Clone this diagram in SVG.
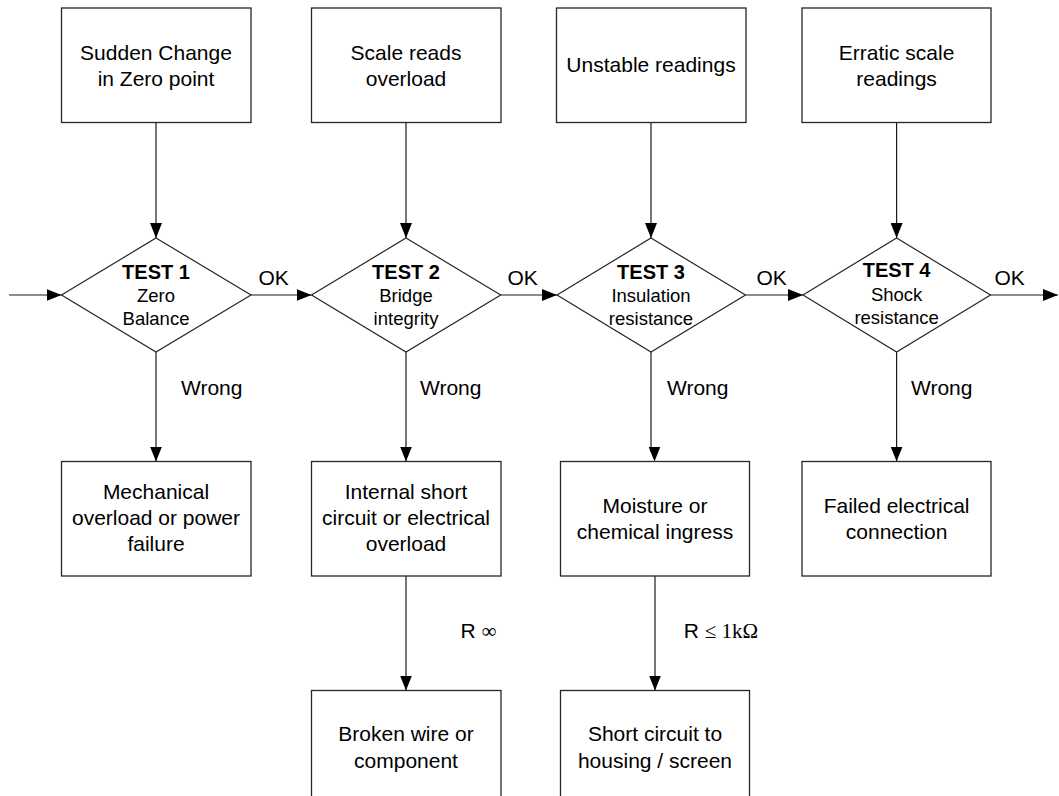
<svg xmlns="http://www.w3.org/2000/svg" width="1059" height="796" viewBox="0 0 1059 796">
<defs>
<style>
.box{fill:#fff;stroke:#262626;stroke-width:1.3}
.dia{fill:#fff;stroke:#262626;stroke-width:1.2}
.con{fill:none;stroke:#1a1a1a;stroke-width:1.2;marker-end:url(#arr)}
.line{fill:none;stroke:#1a1a1a;stroke-width:1.2}
.head{fill:none;stroke:none;marker-end:url(#arr)}
text{font-family:"Liberation Sans",Arial,sans-serif;font-size:21px;fill:#000}
.c{text-anchor:middle}
.t{font-weight:bold;font-size:20px}
.s{font-size:18.5px}
.serif{font-family:"Liberation Serif","Times New Roman",serif}
</style>
<marker id="arr" markerWidth="15" markerHeight="12" refX="15" refY="6" orient="auto" markerUnits="userSpaceOnUse">
<path d="M0,0 L15,6 L0,12 z" fill="#000"/>
</marker>
</defs>
<rect width="1059" height="796" fill="#fff"/>
<g id="connectors">
<line class="con" x1="156" y1="123" x2="156" y2="238"/>
<line class="con" x1="406" y1="123" x2="406" y2="238"/>
<line class="con" x1="651" y1="123" x2="651" y2="238"/>
<line class="con" x1="896.6" y1="123" x2="896.6" y2="238"/>
<line class="con" x1="9" y1="295" x2="61.5" y2="295"/>
<line class="con" x1="251" y1="295" x2="311.5" y2="295"/>
<line class="con" x1="500.7" y1="295" x2="557" y2="295"/>
<line class="con" x1="745.5" y1="295" x2="803" y2="295"/>
<line class="con" x1="990.5" y1="295" x2="1058" y2="295"/>
<line class="con" x1="156" y1="352" x2="156" y2="461.5"/>
<line class="con" x1="406" y1="352" x2="406" y2="461.5"/>
<line class="line" x1="651" y1="352" x2="651" y2="452"/>
<path class="head" d="M654.5,440 L654.5,461.5"/>
<line class="con" x1="896.6" y1="352" x2="896.6" y2="461.5"/>
<line class="con" x1="406" y1="576" x2="406" y2="690.5"/>
<line class="con" x1="655" y1="576" x2="655" y2="690.5"/>
<text x="258.5" y="285">OK</text>
<text x="507.5" y="285">OK</text>
<text x="756.5" y="285">OK</text>
<text x="994.5" y="285">OK</text>
<text x="181" y="395">Wrong</text>
<text x="420" y="395">Wrong</text>
<text x="667" y="395">Wrong</text>
<text x="911" y="395">Wrong</text>
<text x="460.5" y="637.5">R <tspan class="serif">∞</tspan></text>
<text x="683.7" y="637.5">R <tspan class="serif">≤ 1kΩ</tspan></text>
</g>
<g id="sym1"><rect class="box" x="61.5" y="8" width="189.5" height="114.5"/>
<text class="c" x="156" y="60">Sudden Change</text><text class="c" x="156" y="85.5">in Zero point</text></g>
<g id="sym2"><rect class="box" x="311.5" y="8" width="189.5" height="114.5"/>
<text class="c" x="406" y="60">Scale reads</text><text class="c" x="406" y="85.5">overload</text></g>
<g id="sym3"><rect class="box" x="556.5" y="8" width="189.5" height="114.5"/>
<text class="c" x="651" y="72">Unstable readings</text></g>
<g id="sym4"><rect class="box" x="802" y="8" width="189" height="114.5"/>
<text class="c" x="896.6" y="60">Erratic scale</text><text class="c" x="896.6" y="85.5">readings</text></g>
<g id="test1"><polygon class="dia" points="156,238 251,295 156,352 61.5,295"/>
<text class="c t" x="156" y="279">TEST 1</text><text class="c s" x="156" y="302">Zero</text><text class="c s" x="156" y="325">Balance</text></g>
<g id="test2"><polygon class="dia" points="406,238 500.7,295 406,352 311.5,295"/>
<text class="c t" x="406" y="279">TEST 2</text><text class="c s" x="406" y="302">Bridge</text><text class="c s" x="406" y="325">integrity</text></g>
<g id="test3"><polygon class="dia" points="651,238 745.5,295 651,352 557,295"/>
<text class="c t" x="651" y="279">TEST 3</text><text class="c s" x="651" y="302">Insulation</text><text class="c s" x="651" y="325">resistance</text></g>
<g id="test4"><polygon class="dia" points="896.6,238 990.5,295 896.6,352 803,295"/>
<text class="c t" x="896.6" y="277">TEST 4</text><text class="c s" x="896.6" y="300.5">Shock</text><text class="c s" x="896.6" y="324">resistance</text></g>
<g id="cause1"><rect class="box" x="61.5" y="461.5" width="189.5" height="114.5"/>
<text class="c" x="156" y="499">Mechanical</text><text class="c" x="156" y="525">overload or power</text><text class="c" x="156" y="550.5">failure</text></g>
<g id="cause2"><rect class="box" x="311.5" y="461.5" width="189.5" height="114.5"/>
<text class="c" x="406" y="499">Internal short</text><text class="c" x="406" y="525">circuit or electrical</text><text class="c" x="406" y="550.5">overload</text></g>
<g id="cause3"><rect class="box" x="560.5" y="461.5" width="189" height="114.5"/>
<text class="c" x="655" y="512.5">Moisture or</text><text class="c" x="655" y="538.5">chemical ingress</text></g>
<g id="cause4"><rect class="box" x="802" y="461.5" width="189" height="114.5"/>
<text class="c" x="896.6" y="512.5">Failed electrical</text><text class="c" x="896.6" y="538.5">connection</text></g>
<g id="cause5"><rect class="box" x="311.5" y="690.5" width="189.5" height="114.5"/>
<text class="c" x="406" y="741">Broken wire or</text><text class="c" x="406" y="767.5">component</text></g>
<g id="cause6"><rect class="box" x="560.5" y="690.5" width="189" height="114.5"/>
<text class="c" x="655" y="741">Short circuit to</text><text class="c" x="655" y="767.5">housing / screen</text></g>
</svg>
